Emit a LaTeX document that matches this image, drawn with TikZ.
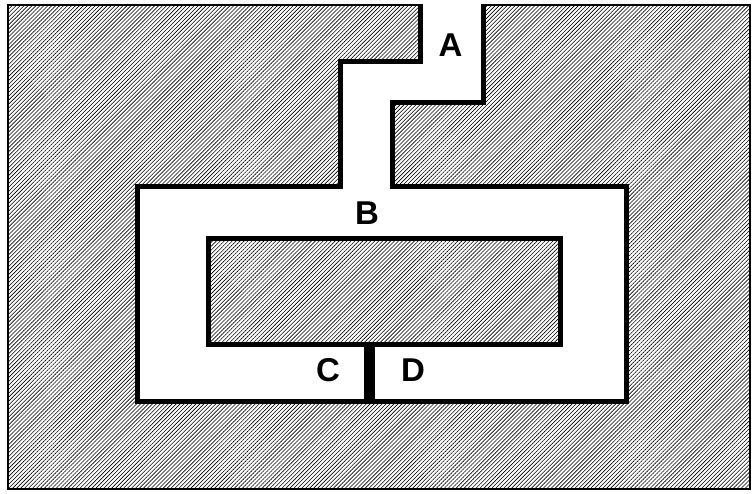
\documentclass[tikz,border=0pt]{standalone}
\usepackage{fontspec}
\setmainfont{Liberation Sans}
\usetikzlibrary{patterns.meta}
\tikzset{
  hatch/.style={pattern={Lines[angle=45,distance=2.8pt,line width=0.6pt]}},
  wall/.style={line width=5pt, line join=miter},
  frame/.style={line width=2pt},
  lbl/.style={font=\fontsize{33}{36}\selectfont\bfseries, inner sep=0pt}
}
\begin{document}
\begin{tikzpicture}[x=1pt,y=-1pt]
\useasboundingbox (0,0) rectangle (754,493);
% hatched ground
\fill[hatch] (8,5) rectangle (750,489);
% outer thin frame with opening for channel
\draw[frame] (420,5) -- (8,5) -- (8,489) -- (750,489) -- (750,5) -- (483,5);
% white channel and chamber
\fill[white] (420,2) -- (420,61) -- (340,61) -- (340,186) -- (137,186) -- (137,401)
  -- (626,401) -- (626,186) -- (392,186) -- (392,102) -- (483,102) -- (483,2) -- cycle;
% walls
\draw[wall] (420,4) -- (420,61) -- (340,61) -- (340,186) -- (137,186) -- (137,401)
  -- (626,401) -- (626,186) -- (392,186) -- (392,102) -- (483,102) -- (483,4);
% inner block
\draw[wall, hatch] (208,238) rectangle (560,344);
% divider between C and D
\fill (364,344) rectangle (375,401);
% labels
\node[lbl] (A) at (450.5,45) {A};
\node[lbl] (B) at (367,213.5) {B};
\node[lbl] (C) at (328,370.5) {C};
\node[lbl] (D) at (413,370) {D};
\end{tikzpicture}
\end{document}
